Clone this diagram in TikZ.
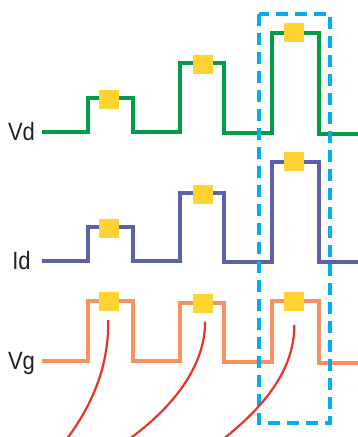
\documentclass[tikz,border=0pt]{standalone}
\usepackage{fontspec}
\setmainfont{Liberation Sans}
\definecolor{vdgreen}{RGB}{0,158,73}
\definecolor{idpurple}{RGB}{92,96,166}
\definecolor{vgorange}{RGB}{247,145,96}
\definecolor{padyellow}{RGB}{255,212,50}
\definecolor{boxcyan}{RGB}{0,174,239}
\definecolor{curvered}{RGB}{232,53,40}
\definecolor{labelgray}{RGB}{35,31,32}
\begin{document}
\begin{tikzpicture}[x=1pt,y=-1pt,
  wave/.style={line width=4pt, line join=miter},
  pad/.style={fill=padyellow, draw=none, minimum width=20pt, minimum height=19pt, inner sep=0pt},
  lbl/.style={anchor=base, text=labelgray, font=\fontsize{25}{25}\selectfont, xscale=0.88, inner sep=0pt},
  selbox/.style={draw=boxcyan, line width=4pt, dash pattern=on 12pt off 7pt},
  link/.style={draw=curvered, line width=2.2pt}]
\useasboundingbox (0,0) rectangle (358,437);
% waveforms
\draw[wave, vdgreen] (42,132) -- (87.7,132) -- (87.7,97.5) -- (132.7,97.5) -- (132.7,132) -- (180.3,132) -- (180.3,63) -- (224,63) -- (224,132.7) -- (272,132.7) -- (272,32.5) -- (318.7,32.5) -- (318.7,133.7) -- (358,133.7);
\draw[wave, idpurple] (42,261) -- (87.7,261) -- (87.7,227.3) -- (132.7,227.3) -- (132.7,261.3) -- (180.3,261.3) -- (180.3,192.7) -- (224,192.7) -- (224,261.7) -- (272,261.7) -- (272,161.7) -- (318.7,161.7) -- (318.7,262.3) -- (358,262.3);
\draw[wave, vgorange] (42,361) -- (87.7,361) -- (87.7,300.7) -- (132.7,300.7) -- (132.7,361) -- (180.3,361) -- (180.3,303.3) -- (224,303.3) -- (224,361.7) -- (272,361.7) -- (272,300.7) -- (318.7,300.7) -- (318.7,362.7) -- (358,362.7);
% labels
\node[lbl] (lvd) at (21.5,140) {Vd};
\node[lbl] (lid) at (21.5,269.5) {Id};
\node[lbl] (lvg) at (21.5,369.5) {Vg};
% pads
\node[pad] (p1) at (109,99.5) {};
\node[pad] (p2) at (203,64.5) {};
\node[pad] (p3) at (294,32.5) {};
\node[pad] (p4) at (109,228.3) {};
\node[pad] (p5) at (203,194.3) {};
\node[pad] (p6) at (294,161.5) {};
\node[pad] (p7) at (109,301.5) {};
\node[pad] (p8) at (203,303.3) {};
\node[pad] (p9) at (294,301.5) {};
% dashed selection box
\draw[selbox] (258.5,14) rectangle (330,422.7);
% red links
\coordinate (a1) at (108.3,320);
\coordinate (b1) at (66,440);
\coordinate (a2) at (205,321.7);
\coordinate (b2) at (128,440);
\coordinate (a3) at (294.3,325);
\coordinate (b3) at (222,440);
\draw[link] (a1) .. controls (108.5,355) and (100,395) .. (b1);
\draw[link] (a2) .. controls (205.5,355) and (186,398) .. (b2);
\draw[link] (a3) .. controls (294.5,360) and (276,398) .. (b3);
\end{tikzpicture}
\end{document}
